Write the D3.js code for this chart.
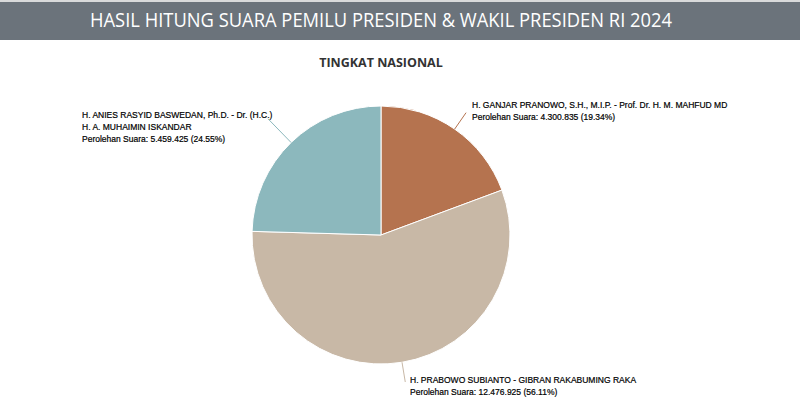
<!DOCTYPE html>
<html>
<head>
<meta charset="utf-8">
<script src="https://cdn.jsdelivr.net/npm/d3@7"></script>
<style>
  body { margin: 0; background: #fff; }
</style>
</head>
<body>
<div id="chart"></div>
<script>
var candidates = [
  ["H. GANJAR PRANOWO, S.H., M.I.P. - Prof. Dr. H. M. MAHFUD MD"],
  ["H. PRABOWO SUBIANTO - GIBRAN RAKABUMING RAKA"],
  ["H. ANIES RASYID BASWEDAN, Ph.D. - Dr. (H.C.)", "H. A. MUHAIMIN ISKANDAR"]
];
var votes = [4300835, 12476925, 5459425];
var percents = ["19.34%", "56.11%", "24.55%"];
var colors = ["#b5734f", "#c8b8a6", "#8cb8bd"];

var width = 800, height = 400;
var cx = 381, cy = 235, radius = 129;

var svg = d3.select("#chart").append("svg")
  .attr("width", width)
  .attr("height", height);

// header bar
svg.append("rect")
  .attr("x", 0).attr("y", 0)
  .attr("width", width).attr("height", 40)
  .attr("fill", "#6b737b");
svg.append("rect")
  .attr("x", 0).attr("y", 0)
  .attr("width", width).attr("height", 2)
  .attr("fill", "#d9dadb");

svg.append("text")
  .attr("x", 381).attr("y", 27)
  .attr("text-anchor", "middle")
  .attr("textLength", 582)
  .attr("lengthAdjust", "spacingAndGlyphs")
  .style("font-family", "'Open Sans', sans-serif")
  .style("font-size", "19.5px")
  .style("fill", "#ffffff")
  .text("HASIL HITUNG SUARA PEMILU PRESIDEN & WAKIL PRESIDEN RI 2024");

svg.append("text")
  .attr("x", 381).attr("y", 67)
  .attr("text-anchor", "middle")
  .style("font-family", "'Open Sans', sans-serif")
  .style("font-weight", "bold")
  .style("font-size", "12.5px")
  .style("fill", "#333333")
  .text("TINGKAT NASIONAL");

var pie = d3.pie().sort(null).value(function (d) { return d; });
var arcs = pie(votes);
var arc = d3.arc().innerRadius(0).outerRadius(radius);

var g = svg.append("g").attr("transform", "translate(" + cx + "," + cy + ")");

g.selectAll("path")
  .data(arcs)
  .enter()
  .append("path")
  .attr("d", arc)
  .attr("fill", function (d, i) { return colors[i]; })
  .attr("stroke", "#ffffff")
  .attr("stroke-width", 1);

// leader lines
var lineLen = [20, 20, 33];
g.selectAll("line.leader")
  .data(arcs)
  .enter()
  .append("line")
  .attr("class", "leader")
  .attr("x1", function (d) { var a = (d.startAngle + d.endAngle) / 2; return Math.sin(a) * radius; })
  .attr("y1", function (d) { var a = (d.startAngle + d.endAngle) / 2; return -Math.cos(a) * radius; })
  .attr("x2", function (d, i) { var a = (d.startAngle + d.endAngle) / 2; return Math.sin(a) * (radius + lineLen[i]); })
  .attr("y2", function (d, i) { var a = (d.startAngle + d.endAngle) / 2; return -Math.cos(a) * (radius + lineLen[i]); })
  .attr("stroke", function (d, i) { return colors[i]; })
  .attr("stroke-width", 1);

// labels
var labelPos = [[472, 108], [410, 383], [82, 118]];
var fmt = function (v) { return d3.format(",")(v).replace(/,/g, "."); };

candidates.forEach(function (names, i) {
  var t = svg.append("text")
    .attr("x", labelPos[i][0])
    .attr("y", labelPos[i][1])
    .style("font-family", "'Liberation Sans', Arial, sans-serif")
    .style("font-size", "8.5px")
    .style("fill", "#000000")
    .style("stroke", "#000000")
    .style("stroke-width", 0.2);
  var lines = names.concat(["Perolehan Suara: " + fmt(votes[i]) + " (" + percents[i] + ")"]);
  lines.forEach(function (s, j) {
    t.append("tspan")
      .attr("x", labelPos[i][0])
      .attr("dy", j == 0 ? 0 : 12)
      .text(s);
  });
});
</script>
</body>
</html>
